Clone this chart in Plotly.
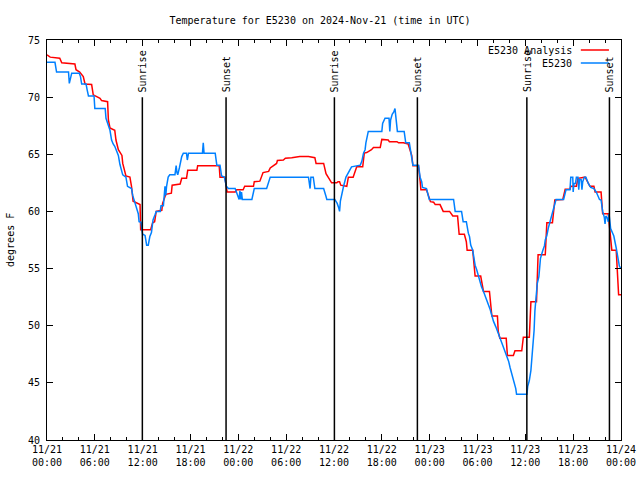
import plotly.graph_objects as go
import pandas as pd

# ---------------- data ----------------
base_time = "2024-11-21 00:00"

analysis_hours = [0.0, 0.4, 1.6, 1.85, 3.5, 3.64, 4.1, 4.55, 4.77, 5.6, 5.8, 6.65, 6.85, 7.6, 7.7, 7.9,
                  8.5, 8.65, 8.95, 9.4, 9.5, 9.9, 10.4, 10.6, 10.8, 11.67, 11.75, 13.0, 13.25, 13.5, 13.7,
                  14.4, 14.5, 14.9, 15.6, 15.7, 16.7, 16.9, 17.5, 17.65, 18.8, 18.9, 21.6, 21.7, 22.3, 22.45,
                  22.6, 23.6, 23.8, 24.6, 24.8, 25.9, 26.0, 26.7, 27.1, 27.8, 28.0, 28.8, 28.9, 29.65, 29.9,
                  30.7, 31.7, 32.8, 33.6, 33.75, 34.7, 35.0, 35.3, 35.7, 36.35, 36.5, 36.7, 36.85, 37.6,
                  37.8, 38.4, 38.85, 39.6, 39.8, 40.1, 40.7, 40.95, 41.8, 42.0, 42.8, 42.95, 43.9, 44.1,
                  44.7, 45.3, 45.75, 45.9, 46.6, 46.8, 46.9, 47.6, 48.1, 48.5, 48.7, 49.3, 49.7, 50.5, 50.9,
                  51.5, 51.6, 51.7, 52.35, 52.6, 52.7, 53.4, 53.7, 54.4, 54.75, 55.5, 55.8, 56.5, 56.6,
                  56.8, 57.6, 57.75, 58.5, 58.7, 59.55, 59.75, 60.5, 60.6, 60.7, 61.4, 61.6, 62.5, 62.7,
                  63.4, 63.7, 64.7, 65.0, 65.6, 65.7, 66.4, 66.6, 67.5, 67.9, 68.1, 68.6, 68.75, 69.5,
                  69.7, 70.4, 70.6, 70.85, 71.4, 71.6, 71.7, 72.0]
analysis_temps = [73.7, 73.5, 73.4, 73.0, 72.9, 72.4, 72.2, 71.8, 71.15, 71.1, 70.2, 69.9, 69.7, 69.6, 68.0, 67.3,
                  67.1, 66.25, 65.4, 64.9, 64.2, 63.1, 63.0, 62.2, 60.9, 60.6, 58.4, 58.4, 59.0, 59.1, 60.0,
                  60.1, 60.7, 61.5, 61.6, 62.3, 62.4, 62.9, 62.9, 63.6, 63.6, 64.0, 64.0, 63.0, 63.0, 62.4,
                  61.7, 61.7, 61.9, 61.9, 62.2, 62.2, 62.6, 62.65, 63.4, 63.5, 63.8, 64.2, 64.45, 64.5, 64.65,
                  64.7, 64.8, 64.8, 64.7, 64.2, 64.2, 63.3, 62.9, 62.5, 62.5, 62.6, 62.6, 62.3, 62.2,
                  63.0, 63.0, 63.9, 63.9, 65.1, 65.15, 65.4, 65.6, 65.6, 66.3, 66.25, 66.1, 66.1, 66.0,
                  66.0, 65.9, 64.9, 64.0, 64.0, 62.7, 61.9, 61.9, 60.85, 60.8, 60.6, 60.6, 60.0, 60.0, 59.6,
                  59.6, 58.4, 58.0, 58.0, 57.35, 56.6, 56.6, 54.35, 54.35, 53.0, 53.0, 50.85, 50.85, 49.5,
                  48.9, 48.9, 47.4, 47.4, 47.8, 47.8, 49.0, 49.0, 50.55, 52.1, 52.1, 56.2, 56.2, 59.0,
                  59.0, 61.0, 61.05, 61.95, 61.95, 62.2, 62.2, 62.9, 63.0, 62.45, 62.2, 62.2, 61.7, 61.7,
                  59.8, 59.8, 58.4, 56.6, 56.6, 54.6, 52.7, 52.7]

obs_hours = [0.0, 1.0, 1.2, 2.7, 2.8, 3.0, 3.1, 4.05, 4.2, 4.35, 4.9, 5.05, 5.2, 5.9, 6.0, 7.3, 7.4, 7.9,
             8.1, 8.3, 8.5, 8.95, 9.15, 9.5, 9.9, 10.1, 10.6, 10.75, 11.25, 11.45, 11.55, 11.8, 11.9, 12.0,
             12.3, 12.4, 12.5, 12.7, 12.9, 13.1, 13.25, 13.3, 13.55, 13.7, 14.2, 14.3, 14.6, 14.7, 14.8,
             14.9, 15.0, 15.2, 15.4, 16.05, 16.2, 16.3, 16.4, 16.6, 16.7, 16.9, 17.1, 17.5, 17.6, 17.75,
             19.5, 19.6, 19.7, 21.1, 21.3, 21.7, 21.9, 22.25, 22.5, 22.75, 23.6, 23.9, 24.0, 24.1, 24.2,
             24.3, 24.4, 24.5, 25.7, 26.0, 27.55, 28.0, 32.8, 32.9, 33.0, 33.1, 33.4, 33.6, 34.7, 35.0,
             35.1, 36.1, 36.4, 36.6, 36.7, 36.8, 37.0, 37.2, 37.5, 37.9, 38.2, 39.3, 39.5, 39.7, 39.9,
             40.0, 40.3, 42.0, 42.1, 42.4, 42.9, 43.0, 43.1, 43.3, 43.5, 43.65, 43.8, 43.95, 44.8, 45.0,
             45.45, 45.6, 45.75, 45.9, 46.6, 46.7, 46.8, 47.0, 47.1, 47.6, 47.8, 47.95, 51.0, 51.1, 51.2,
             52.0, 52.1, 52.2, 52.6, 52.7, 52.85, 53.0, 53.15, 53.4, 53.5, 53.7, 53.9, 54.1, 54.3, 54.5,
             54.8, 55.1, 55.3, 55.6, 55.8, 56.0, 56.3, 56.75, 57.0, 57.2, 57.6, 57.9, 58.1, 58.4, 58.6,
             58.8, 58.9, 60.2, 60.3, 60.5, 60.7, 60.9, 61.0, 61.1, 61.2, 61.35, 61.5, 61.7, 61.8, 61.9,
             62.2, 62.4, 62.5, 62.7, 62.9, 63.1, 63.4, 63.6, 63.85, 64.8, 65.0, 65.1, 65.6, 65.7, 65.95,
             66.0, 66.1, 66.3, 66.4, 66.6, 66.7, 66.8, 67.0, 67.1, 67.2, 67.4, 67.6, 67.9, 68.2, 68.6,
             68.9, 69.3, 69.5, 69.7, 69.9, 70.0, 70.1, 70.3, 70.4, 70.5, 70.7, 71.1, 71.4, 71.55, 71.8, 72.0]
obs_temps = [73.05, 73.05, 72.2, 72.2, 71.2, 71.9, 72.1, 72.1, 71.8, 71.15, 71.15, 70.6, 70.1, 70.1, 69.0, 69.0, 68.15, 67.1,
             66.25, 65.9, 65.7, 64.9, 64.1, 63.2, 63.0, 62.2, 62.0, 61.4, 60.2, 59.8, 59.1, 59.05, 58.4, 58.0,
             57.9, 57.35, 57.05, 57.05, 57.8, 58.15, 58.8, 59.25, 59.7, 60.0, 60.0, 60.5, 60.5, 61.6, 62.2,
             61.4, 62.2, 63.0, 63.2, 63.2, 64.0, 63.4, 63.2, 63.8, 64.2, 64.8, 65.1, 65.1, 64.5, 65.1,
             65.1, 66.0, 65.1, 65.1, 64.05, 64.05, 63.1, 63.0, 62.2, 62.0, 62.0, 61.4, 61.3, 61.05, 61.8,
             61.05, 61.7, 61.05, 61.05, 62.0, 62.0, 63.0, 63.0, 62.2, 62.0, 63.0, 63.0, 62.0, 62.0, 61.3,
             61.05, 61.05, 60.7, 60.3, 60.0, 60.9, 61.6, 62.2, 63.0, 63.5, 63.9, 64.05, 64.4, 65.1, 65.4,
             66.0, 67.0, 67.0, 67.7, 68.15, 68.15, 67.0, 68.0, 68.5, 68.7, 69.0, 68.0, 67.0, 67.0, 66.0,
             66.0, 65.3, 64.65, 64.05, 64.05, 63.5, 63.0, 62.6, 62.1, 62.0, 61.5, 61.05, 61.05, 60.6, 60.0,
             60.0, 59.6, 59.1, 59.1, 58.5, 58.1, 57.8, 57.05, 56.6, 56.0, 55.3, 54.9, 54.4, 54.0, 53.4,
             52.9, 52.4, 51.9, 51.4, 50.9, 50.4, 49.9, 49.05, 48.6, 48.2, 47.4, 46.9, 46.3, 45.55, 45.0,
             44.5, 44.0, 44.0, 44.7, 45.2, 46.1, 47.8, 48.6, 49.6, 51.3, 52.55, 53.7, 54.3, 55.4, 55.9,
             56.6, 57.0, 57.5, 57.9, 58.6, 59.1, 59.8, 60.5, 61.05, 61.05, 61.6, 61.9, 61.9, 63.0, 63.0,
             61.7, 62.45, 62.45, 63.0, 63.0, 61.9, 62.8, 62.8, 61.9, 62.6, 63.0, 63.0, 62.45, 62.1, 62.0,
             61.7, 61.05, 61.0, 60.0, 59.5, 58.9, 59.6, 59.4, 59.1, 59.8, 58.5, 57.85, 56.8, 56.05, 55.2, 55.0]

sunrise_hours = [11.96, 36.05, 60.19]
sunset_hours = [22.46, 46.46, 70.55]

series_names = ["E5230 Analysis", "E5230"]
series_colors = ["#ff0000", "#0080ff"]
y_ticks = [40, 45, 50, 55, 60, 65, 70, 75]

# ---------------- figure ----------------
t0 = pd.Timestamp(base_time)


def to_time(hours):
    return [t0 + pd.Timedelta(hours=h) for h in hours]


FONT = "DejaVu Sans Mono"
fig = go.Figure()
fig.add_trace(go.Scatter(x=to_time(analysis_hours), y=analysis_temps, mode="lines",
                         line=dict(color=series_colors[0], width=1.5), name=series_names[0]))
fig.add_trace(go.Scatter(x=to_time(obs_hours), y=obs_temps, mode="lines",
                         line=dict(color=series_colors[1], width=1.5), name=series_names[1]))

annotations = []
shapes = []
for label, hours in (("Sunrise", sunrise_hours), ("Sunset", sunset_hours)):
    for t in to_time(hours):
        shapes.append(dict(type="line", xref="x", yref="y", x0=t, x1=t, y0=40, y1=70,
                           line=dict(color="black", width=1.5)))
        annotations.append(dict(x=t, y=70, xref="x", yref="y", text=label, textangle=-90,
                                showarrow=False, xanchor="center", yanchor="bottom", yshift=3,
                                font=dict(family=FONT, size=10, color="black")))

# legend (text right-aligned, sample line on the right, like gnuplot)
for i, (name, color) in enumerate(zip(series_names, series_colors)):
    ypos = 0.975 - i * 0.0325
    annotations.append(dict(x=0.918, y=ypos, xref="paper", yref="paper", text=name, showarrow=False,
                            xanchor="right", yanchor="middle",
                            font=dict(family=FONT, size=10, color="black")))
    shapes.append(dict(type="line", xref="paper", yref="paper", x0=0.930, x1=0.979, y0=ypos, y1=ypos,
                       line=dict(color=color, width=1.5)))

annotations.append(dict(x=-0.0645, y=0.5, xref="paper", yref="paper", text="degrees F", textangle=-90,
                        showarrow=False, xanchor="center", yanchor="middle",
                        font=dict(family=FONT, size=10, color="black")))

fig.update_layout(
    width=640, height=480, autosize=False,
    margin=dict(l=47, r=19, t=40, b=40, autoexpand=False),
    paper_bgcolor="white", plot_bgcolor="white",
    showlegend=False,
    title=dict(text="Temperature for E5230 on 2024-Nov-21 (time in UTC)", x=0.5, xref="container",
               xanchor="center", y=1 - 20 / 480, yref="container", yanchor="middle",
               font=dict(family=FONT, size=10, color="black")),
    font=dict(family=FONT, size=10, color="black"),
    annotations=annotations,
    shapes=shapes,
)
fig.update_xaxes(
    type="date", range=[t0, t0 + pd.Timedelta(hours=72)], automargin=False,
    tick0=t0, dtick=6 * 3600 * 1000, tickformat="%m/%d<br>%H:%M",
    ticks="inside", ticklen=6, tickcolor="black", mirror="allticks",
    showline=True, linecolor="black", linewidth=1, showgrid=False, zeroline=False,
    minor=dict(dtick=2 * 3600 * 1000, ticks="inside", ticklen=3, tickcolor="black", showgrid=False),
    tickfont=dict(family=FONT, size=10, color="black"),
)
fig.update_yaxes(
    range=[40, 75], tickvals=y_ticks, automargin=False,
    ticks="inside", ticklen=6, tickcolor="black", mirror="allticks",
    showline=True, linecolor="black", linewidth=1, showgrid=False, zeroline=False,
    tickfont=dict(family=FONT, size=10, color="black"), ticklabelstandoff=4,
)

fig.write_html("out.html", config={"responsive": False, "displayModeBar": False},
               post_script="document.body.style.margin='0';document.body.style.padding='0';")
